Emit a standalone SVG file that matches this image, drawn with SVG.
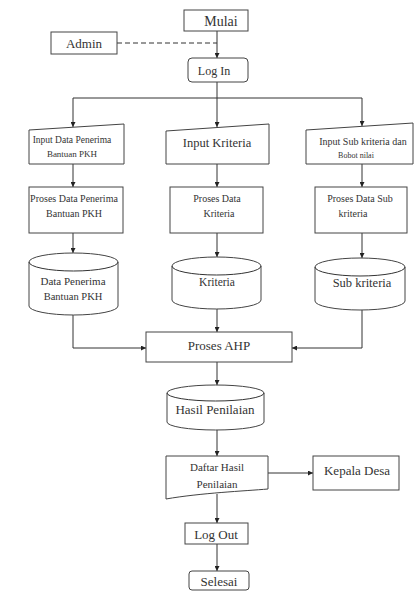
<svg xmlns="http://www.w3.org/2000/svg" width="414" height="592" viewBox="0 0 414 592" font-family="'Liberation Serif', 'DejaVu Serif', serif">
<defs>
<style>
.s{fill:#fff;stroke:#444;stroke-width:1}
.c{fill:none;stroke:#333;stroke-width:1}
.d{fill:none;stroke:#333;stroke-width:1;stroke-dasharray:5,3}
text{font-family:"Liberation Serif","DejaVu Serif",serif;fill:#333;text-anchor:middle;dominant-baseline:central}
</style>
<marker id="ah" viewBox="0 0 8 8" refX="8" refY="4" markerWidth="5" markerHeight="5" orient="auto" markerUnits="userSpaceOnUse">
<path d="M0,0 L8,4 L0,8 Z" fill="#222"/>
</marker>
</defs>
<rect width="414" height="592" fill="#fff"/>
<g id="connectors">
<line class="c" x1="217" y1="31" x2="217" y2="58" marker-end="url(#ah)"/>
<line class="d" x1="117" y1="43" x2="217" y2="43"/>
<line class="c" x1="217" y1="82" x2="217" y2="98"/>
<line class="c" x1="73" y1="98" x2="362" y2="98"/>
<line class="c" x1="73" y1="98" x2="73" y2="127" marker-end="url(#ah)"/>
<line class="c" x1="217" y1="98" x2="217" y2="127" marker-end="url(#ah)"/>
<line class="c" x1="362" y1="98" x2="362" y2="126" marker-end="url(#ah)"/>
<line class="c" x1="73" y1="164" x2="73" y2="187" marker-end="url(#ah)"/>
<line class="c" x1="217" y1="164" x2="217" y2="187" marker-end="url(#ah)"/>
<line class="c" x1="362" y1="164" x2="362" y2="187" marker-end="url(#ah)"/>
<line class="c" x1="73" y1="233" x2="73" y2="253" marker-end="url(#ah)"/>
<line class="c" x1="217" y1="233" x2="217" y2="257" marker-end="url(#ah)"/>
<line class="c" x1="362" y1="233" x2="362" y2="258" marker-end="url(#ah)"/>
<polyline class="c" points="73,315 73,348 146,348" marker-end="url(#ah)"/>
<line class="c" x1="217" y1="309" x2="217" y2="332" marker-end="url(#ah)"/>
<polyline class="c" points="362,310 362,348 292,348" marker-end="url(#ah)"/>
<line class="c" x1="217" y1="362" x2="217" y2="385" marker-end="url(#ah)"/>
<line class="c" x1="217" y1="430" x2="217" y2="456" marker-end="url(#ah)"/>
<line class="c" x1="268" y1="473" x2="313" y2="473" marker-end="url(#ah)"/>
<line class="c" x1="217" y1="494" x2="217" y2="523" marker-end="url(#ah)"/>
<line class="c" x1="217" y1="544" x2="217" y2="571" marker-end="url(#ah)"/>
</g>
<g id="mulai"><rect class="s" x="184" y="10" width="64" height="21"/><text font-size="14" x="221" y="21">Mulai</text></g>
<g id="admin"><rect class="s" x="51" y="32" width="66" height="22"/><text font-size="13" x="84" y="43">Admin</text></g>
<g id="login"><rect class="s" x="188" y="58" width="60" height="24" rx="4"/><text font-size="12" x="214" y="71">Log In</text></g>
<g id="input-penerima"><path class="s" d="M29,130 L124,124 L124,164 L29,164 Z"/><text font-size="9.5" x="72" y="140">Input Data Penerima</text><text font-size="9" x="72" y="154">Bantuan PKH</text></g>
<g id="input-kriteria"><path class="s" d="M166,131 L269,124 L269,164 L166,164 Z"/><text font-size="12.5" x="217" y="143">Input Kriteria</text></g>
<g id="input-sub"><path class="s" d="M306,130 L413,123 L413,164 L306,164 Z"/><text font-size="10" x="363" y="141">Input Sub kriteria dan</text><text font-size="8" x="356" y="155">Bobot nilai</text></g>
<g id="proses-penerima"><rect class="s" x="29" y="187" width="94" height="46"/><text font-size="10" x="74" y="198">Proses Data Penerima</text><text font-size="10" x="74" y="213">Bantuan PKH</text></g>
<g id="proses-kriteria"><rect class="s" x="170" y="187" width="93" height="46"/><text font-size="10" x="217" y="198">Proses Data</text><text font-size="10" x="219" y="213">Kriteria</text></g>
<g id="proses-sub"><rect class="s" x="315" y="187" width="92" height="46"/><text font-size="10" x="360" y="198">Proses Data Sub</text><text font-size="10" x="353" y="213">kriteria</text></g>
<g id="db-penerima"><path class="s" d="M29,262 A44.5,9 0 0 1 118,262 L118,306 A44.5,9 0 0 1 29,306 Z"/><path class="c" d="M29,262 A44.5,9 0 0 0 118,262"/><text font-size="11" x="73" y="281">Data Penerima</text><text font-size="10.5" x="73" y="296">Bantuan PKH</text></g>
<g id="db-kriteria"><path class="s" d="M172,266 A44.5,9 0 0 1 261,266 L261,300 A44.5,9 0 0 1 172,300 Z"/><path class="c" d="M172,266 A44.5,9 0 0 0 261,266"/><text font-size="11.5" x="217" y="282">Kriteria</text></g>
<g id="db-sub"><path class="s" d="M315,267 A45,9 0 0 1 405,267 L405,301 A45,9 0 0 1 315,301 Z"/><path class="c" d="M315,267 A45,9 0 0 0 405,267"/><text font-size="12.5" x="362" y="283">Sub kriteria</text></g>
<g id="proses-ahp"><rect class="s" x="146" y="332" width="146" height="30"/><text font-size="13" x="219" y="345">Proses AHP</text></g>
<g id="db-hasil"><path class="s" d="M167,393 A48.5,8 0 0 1 264,393 L264,422 A48.5,8 0 0 1 167,422 Z"/><path class="c" d="M167,393 A48.5,8 0 0 0 264,393"/><text font-size="13" x="215" y="409">Hasil Penilaian</text></g>
<g id="daftar"><path class="s" d="M166,456 L268,456 L268,489 C245,491 200,493 166,499 Z"/><text font-size="11" x="217" y="467">Daftar Hasil</text><text font-size="11" x="217" y="484">Penilaian</text></g>
<g id="kepala-desa"><rect class="s" x="313" y="456" width="86" height="34"/><text font-size="13" x="357" y="470">Kepala Desa</text></g>
<g id="logout"><rect class="s" x="185" y="523" width="63" height="21"/><text font-size="13" x="216" y="534">Log Out</text></g>
<g id="selesai"><rect class="s" x="189" y="571" width="60" height="19" rx="3"/><text font-size="13" x="219" y="581">Selesai</text></g>
</svg>
